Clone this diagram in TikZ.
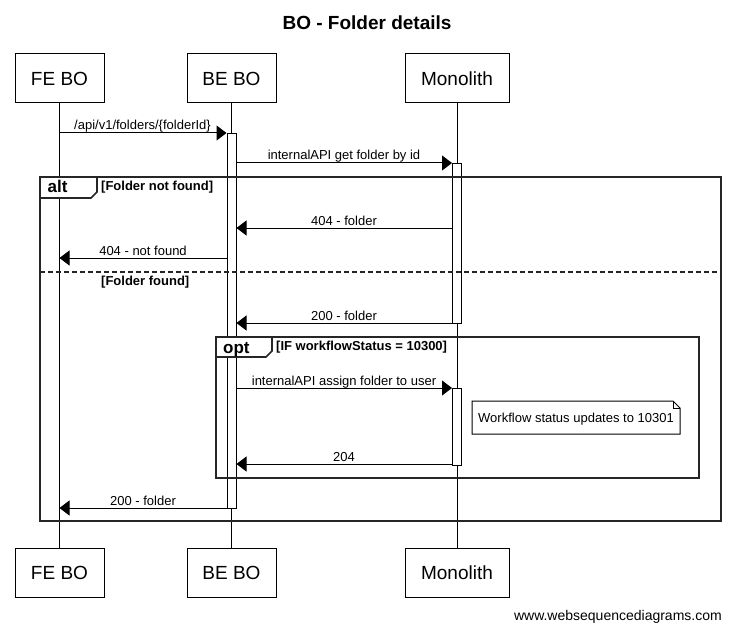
\documentclass[tikz,border=0pt]{standalone}
\usepackage{fontspec}
\setmainfont{Liberation Sans}
\usetikzlibrary{arrows.meta}
\begin{document}
\begin{tikzpicture}[x=1pt,y=-1pt,
  part/.style={draw, line width=1pt, fill=white, minimum width=89pt, minimum height=49pt, inner sep=0pt, font=\fontsize{19}{22}\selectfont},
  life/.style={line width=1pt},
  bar/.style={draw, line width=1pt, fill=white, minimum width=9pt, inner sep=0pt, anchor=north},
  msg/.style={line width=1pt, -{Triangle[length=10pt,width=15pt]}},
  lbl/.style={font=\fontsize{13}{15}\selectfont, inner sep=0pt, anchor=base},
  frm/.style={draw=black!85, line width=1.7pt},
  tab/.style={draw=black!85, line width=1.7pt, fill=white},
  tablbl/.style={font=\bfseries\fontsize{17}{19}\selectfont, inner sep=0pt, anchor=base west},
  cond/.style={font=\bfseries\fontsize{13}{15}\selectfont, inner sep=0pt, anchor=base west},
  notebox/.style={draw, line width=1pt, fill=white}
]
\useasboundingbox[fill=white] (0,0) rectangle (730,631);

% title
\node[font=\bfseries\fontsize{19}{22}\selectfont, inner sep=0pt, anchor=base] (title) at (367,30) {BO - Folder details};

% participants
\node[part] (fe) at (59.5,78.5) {FE BO};
\node[part] (be) at (231.5,78.5) {BE BO};
\node[part, minimum width=104pt] (mo) at (457,78.5) {Monolith};
\node[part] (fe2) at (59.5,572.5) {FE BO};
\node[part] (be2) at (231.5,572.5) {BE BO};
\node[part, minimum width=104pt] (mo2) at (457,572.5) {Monolith};

% lifelines
\draw[life] (fe.south) -- (fe2.north);
\draw[life] (be.south) -- (be2.north);
\draw[life] (mo.south) -- (mo2.north);

% activation bars
\node[bar, minimum height=375pt] (beb) at (231.5,133) {};
\node[bar, minimum height=160pt] (mob1) at (457,163) {};
\node[bar, minimum height=77pt] (mob2) at (457,388) {};

% alt frame
\draw[frm] (40,177) rectangle (721,521);
\draw[tab] (40,177) -- (97,177) -- (97,192) -- (91,198) -- (40,198) -- cycle;
\node[tablbl] (altl) at (47.5,193) {alt};
\node[cond] (c1) at (101,190) {[Folder not found]};
\draw[draw=black!85, line width=1.7pt, dash pattern=on 5pt off 3pt] (40,272) -- (721,272);
\node[cond] (c2) at (101,285) {[Folder found]};

% opt frame
\draw[frm] (216,337) rectangle (699,478);
\draw[tab] (216,337) -- (272,337) -- (272,351) -- (266,357) -- (216,357) -- cycle;
\node[tablbl] (optl) at (223,353) {opt};
\node[cond] (c3) at (276,350) {[IF workflowStatus = 10300]};

% note
\draw[notebox] (472,401) -- (673,401) -- (680,408) -- (680,434) -- (472,434) -- cycle;
\draw[line width=1pt] (673,401) -- (673,408) -- (680,408);
\node[lbl, anchor=base west] (note) at (478,422) {Workflow status updates to 10301};

% messages
\draw[msg] (fe |- 0,133) -- (beb.west |- 0,133);
\node[lbl] (l1) at (142.5,130) {/api/v1/folders/\{folderId\}};
\draw[msg] (beb.east |- 0,163) -- (mob1.west |- 0,163);
\node[lbl] (l2) at (344,160) {internalAPI get folder by id};
\draw[msg] (mob1.west |- 0,228) -- (beb.east |- 0,228);
\node[lbl] (l3) at (344,225) {404 - folder};
\draw[msg] (beb.west |- 0,258) -- (fe |- 0,258);
\node[lbl] (l4) at (143,255) {404 - not found};
\draw[msg] (mob1.west |- 0,323) -- (beb.east |- 0,323);
\node[lbl] (l5) at (344,320) {200 - folder};
\draw[msg] (beb.east |- 0,388) -- (mob2.west |- 0,388);
\node[lbl] (l6) at (344,385) {internalAPI assign folder to user};
\draw[msg] (mob2.west |- 0,464) -- (beb.east |- 0,464);
\node[lbl] (l7) at (344,461) {204};
\draw[msg] (beb.west |- 0,508) -- (fe |- 0,508);
\node[lbl] (l8) at (143,505) {200 - folder};

% watermark
\node[font=\fontsize{14}{16}\selectfont, inner sep=0pt, anchor=base east] (wm) at (722,620) {www.websequencediagrams.com};
\end{tikzpicture}
\end{document}
